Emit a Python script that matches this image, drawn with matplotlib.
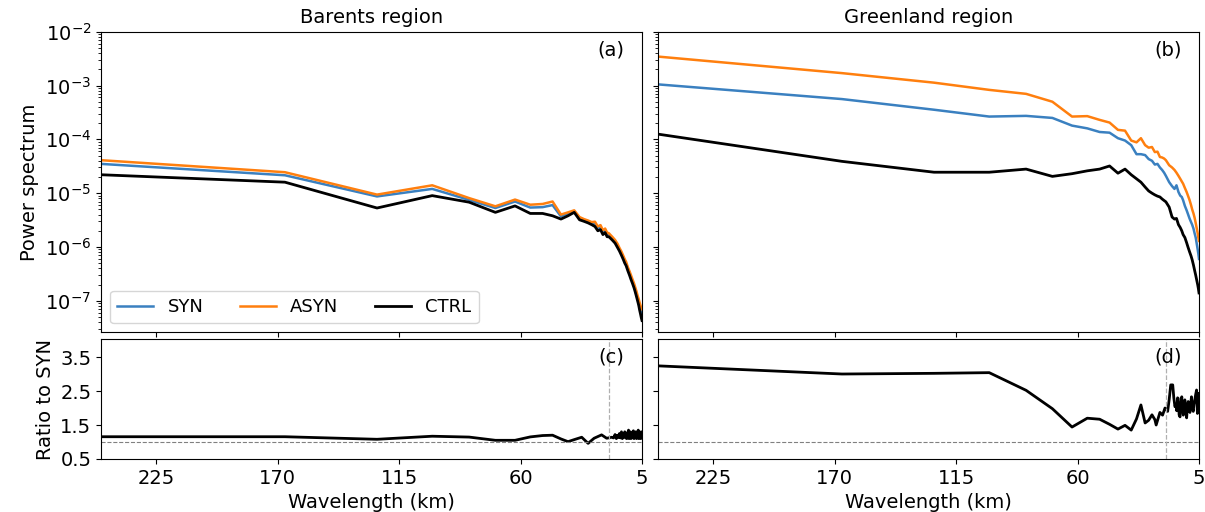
import matplotlib
matplotlib.use("Agg")
import matplotlib.pyplot as plt

# ---------------- data ----------------
wavelength = [250, 166.7, 125, 100, 83.3, 71.4, 62.5, 55.6, 50, 45.5, 41.7, 38.5,
              35.7, 33.3, 31.3, 29.4, 27.8, 26.3, 25, 23.8, 22.7, 21.7, 20.8, 20,
              18.5, 17.2, 16.1, 15.2, 14.3, 13.5, 12.8, 12.2, 11.4, 10.6, 10, 9.3,
              8.6, 8.1, 7.5, 7, 6.5, 6.1, 5.6, 5.3, 5]

barents_syn = [3.5e-5, 2.15e-5, 8.7e-6, 1.2e-5, 7.5e-6, 5.3e-6, 7.0e-6, 5.4e-6, 5.5e-6,
               6.0e-6, 3.7e-6, 4.2e-6, 4.6e-6, 3.4e-6, 3.2e-6, 3.0e-6, 2.8e-6, 2.6e-6,
               2.3e-6, 2.25e-6, 1.95e-6, 2.0e-6, 1.75e-6, 1.7e-6, 1.45e-6, 1.28e-6,
               1.06e-6, 9.0e-7, 7.6e-7, 6.4e-7, 5.5e-7, 4.9e-7, 3.9e-7, 3.2e-7, 2.7e-7,
               2.25e-7, 1.9e-7, 1.6e-7, 1.3e-7, 1.08e-7, 9.0e-8, 7.6e-8, 6.4e-8, 5.9e-8,
               5.5e-8]
barents_asyn = [4.1e-5, 2.45e-5, 9.4e-6, 1.4e-5, 8.1e-6, 5.7e-6, 7.6e-6, 6.1e-6, 6.3e-6,
                7.0e-6, 4.0e-6, 4.4e-6, 4.8e-6, 3.6e-6, 3.3e-6, 3.1e-6, 2.9e-6, 2.95e-6,
                2.4e-6, 2.55e-6, 2.05e-6, 2.2e-6, 1.85e-6, 1.8e-6, 1.55e-6, 1.35e-6,
                1.15e-6, 9.6e-7, 8.2e-7, 6.9e-7, 5.9e-7, 5.3e-7, 4.2e-7, 3.5e-7, 3.0e-7,
                2.5e-7, 2.1e-7, 1.8e-7, 1.5e-7, 1.25e-7, 1.08e-7, 9.3e-8, 8.0e-8, 7.4e-8,
                7.0e-8]
barents_ctrl = [2.2e-5, 1.6e-5, 5.3e-6, 9.0e-6, 6.8e-6, 4.4e-6, 5.8e-6, 4.2e-6, 4.2e-6,
                3.8e-6, 3.3e-6, 3.8e-6, 4.4e-6, 3.2e-6, 3.0e-6, 2.8e-6, 2.6e-6, 2.4e-6,
                2.0e-6, 2.1e-6, 1.7e-6, 1.85e-6, 1.55e-6, 1.55e-6, 1.35e-6, 1.18e-6,
                9.8e-7, 8.4e-7, 7.0e-7, 5.9e-7, 5.0e-7, 4.5e-7, 3.6e-7, 2.95e-7, 2.5e-7,
                2.1e-7, 1.74e-7, 1.48e-7, 1.2e-7, 1.0e-7, 8.3e-8, 6.8e-8, 5.5e-8, 4.8e-8,
                4.3e-8]

green_syn = [1.05e-3, 5.6e-4, 3.55e-4, 2.65e-4, 2.73e-4, 2.5e-4, 1.8e-4, 1.6e-4, 1.37e-4,
             1.33e-4, 1.05e-4, 9.5e-5, 7.8e-5, 5.3e-5, 5.3e-5, 5.1e-5, 4.3e-5, 4.0e-5,
             3.4e-5, 3.5e-5, 3.0e-5, 2.7e-5, 2.4e-5, 2.1e-5, 1.6e-5, 1.35e-5, 1.2e-5,
             1.4e-5, 1.05e-5, 9.0e-6, 8.5e-6, 7.4e-6, 5.8e-6, 4.8e-6, 4.1e-6, 3.4e-6,
             2.9e-6, 2.6e-6, 2.2e-6, 1.8e-6, 1.5e-6, 1.2e-6, 9.0e-7, 7.5e-7, 6.0e-7]
green_asyn = [3.45e-3, 1.7e-3, 1.13e-3, 8.3e-4, 7.0e-4, 5.0e-4, 2.65e-4, 2.7e-4, 2.3e-4,
              2.05e-4, 1.5e-4, 1.45e-4, 9.5e-5, 8.8e-5, 1.05e-4, 7.8e-5, 7.0e-5, 7.2e-5,
              5.8e-5, 5.9e-5, 4.7e-5, 4.6e-5, 4.4e-5, 4.1e-5, 3.3e-5, 3.0e-5, 2.7e-5,
              2.4e-5, 2.1e-5, 1.85e-5, 1.65e-5, 1.5e-5, 1.25e-5, 1.05e-5, 9.0e-6, 7.5e-6,
              6.0e-6, 5.0e-6, 4.2e-6, 3.5e-6, 2.8e-6, 2.3e-6, 1.8e-6, 1.5e-6, 1.3e-6]
green_ctrl = [1.25e-4, 3.9e-5, 2.45e-5, 2.45e-5, 2.8e-5, 2.05e-5, 2.3e-5, 2.6e-5, 2.8e-5,
              3.2e-5, 2.35e-5, 2.8e-5, 2.2e-5, 1.85e-5, 1.6e-5, 1.3e-5, 1.1e-5, 1.0e-5,
              9.3e-6, 8.8e-6, 8.5e-6, 7.8e-6, 7.3e-6, 6.9e-6, 5.5e-6, 3.6e-6, 3.3e-6,
              3.4e-6, 2.6e-6, 2.3e-6, 2.0e-6, 1.7e-6, 1.5e-6, 1.2e-6, 1.0e-6, 8.2e-7,
              6.8e-7, 5.8e-7, 4.6e-7, 3.7e-7, 3.0e-7, 2.5e-7, 2.0e-7, 1.7e-7, 1.4e-7]

ratio_barents_wl = [250, 166.7, 125, 100, 83.3, 71.4, 62.5, 55.6, 50, 45.5, 41.7, 38.5,
                    35.7, 32.3, 29.4, 26.7, 23.3, 21, 18.7, 17.9, 17.2, 16.6, 16.1, 15.6,
                    15.2, 14.7, 14.3, 13.9, 13.5, 13.2, 12.8, 12.5, 12.2, 11.9, 11.6, 11.4,
                    11.1, 10.9, 10.6, 10.4, 10.2, 10, 9.6, 9.3, 8.9, 8.6, 8.3, 8.1, 7.8,
                    7.5, 7.2, 7.0, 6.7, 6.5, 6.2, 6.0, 5.7, 5.5, 5.3, 5.1, 5.0]
ratio_barents = [1.155, 1.155, 1.08, 1.17, 1.145, 1.05, 1.05, 1.15, 1.19, 1.20, 1.09, 1.01,
                 1.07, 1.14, 0.96, 1.11, 1.21, 1.11, 1.14, 1.12, 1.22, 1.10, 1.20, 1.13,
                 1.25, 1.12, 1.30, 1.10, 1.22, 1.15, 1.30, 1.12, 1.20, 1.10, 1.28, 1.15,
                 1.35, 1.10, 1.25, 1.13, 1.30, 1.10, 1.22, 1.12, 1.33, 1.10, 1.25, 1.15,
                 1.30, 1.10, 1.28, 1.15, 1.35, 1.10, 1.30, 1.12, 1.25, 1.10, 1.30, 1.15,
                 1.22]

ratio_green_wl = [250, 166.7, 125, 100, 83.3, 71.4, 62.5, 55.6, 50, 45.5, 41.7, 38.5,
                  35.7, 33.3, 31.3, 29.4, 27.8, 26.3, 25, 24.4, 22.7, 21.5, 20.4, 19.2,
                  18.5, 17.8, 16.9, 16.4, 15.9, 15.4, 15.1, 14.7, 14.4, 14.0, 13.6, 13.2,
                  12.8, 12.5, 12.1, 11.8, 11.4, 11.0, 10.6, 10.3, 9.9, 9.5, 9.1, 8.8,
                  8.4, 8.0, 7.6, 7.3, 6.9, 6.5, 6.1, 5.9, 5.7, 5.3, 5.0]
ratio_green = [3.24, 3.00, 3.02, 3.04, 2.52, 1.98, 1.44, 1.70, 1.67, 1.52, 1.38, 1.49,
               1.35, 1.68, 2.09, 1.56, 1.64, 1.80, 1.66, 1.50, 1.87, 1.79, 2.00, 1.90,
               2.25, 2.68, 2.68, 2.30, 2.04, 2.10, 1.92, 2.30, 2.28, 1.80, 1.74, 2.10,
               2.33, 2.00, 1.79, 2.10, 2.24, 1.90, 1.71, 2.00, 2.19, 1.95, 1.87, 2.10,
               2.33, 2.00, 1.90, 2.10, 2.24, 2.40, 2.53, 2.10, 1.84, 2.10, 2.43]

series_labels = ["SYN", "ASYN", "CTRL"]
series_colors = ["#3a80c0", "#ff7f0e", "black"]
xticks = [225, 170, 115, 60, 5]
ratio_yticks = [0.5, 1.5, 2.5, 3.5]
titles = ["Barents region", "Greenland region"]
panel_tags = ["(a)", "(b)", "(c)", "(d)"]

# ---------------- figure ----------------
plt.rcParams["font.family"] = "DejaVu Sans"
FS = 14
W, H = 1205, 512
fig = plt.figure(figsize=(W / 100, H / 100), dpi=100)


def rect(x0, x1, y0, y1):
    return [x0 / W, 1 - y1 / H, (x1 - x0) / W, (y1 - y0) / H]


ax_a = fig.add_axes(rect(101, 642, 31.7, 332.3))
ax_b = fig.add_axes(rect(658, 1199, 31.7, 332.3), sharey=ax_a)
ax_c = fig.add_axes(rect(101, 642, 339, 459))
ax_d = fig.add_axes(rect(658, 1199, 339, 459), sharey=ax_c)

spectra = [(ax_a, [barents_syn, barents_asyn, barents_ctrl]),
           (ax_b, [green_syn, green_asyn, green_ctrl])]
for ax, ys in spectra:
    for y, lab, col in zip(ys, series_labels, series_colors):
        lw = 2.0 if col == "black" else 1.8
        ax.plot(wavelength, y, color=col, lw=lw, label=lab)
    ax.set_yscale("log")

ax_a.set_ylim(2.6e-8, 1e-2)

ratios = [(ax_c, ratio_barents_wl, ratio_barents), (ax_d, ratio_green_wl, ratio_green)]
for ax, xw, r in ratios:
    ax.plot(xw, r, color="black", lw=2.0)
    ax.axhline(1.0, color="gray", lw=0.8, ls="--")
    ax.axvline(20, color="#b0b0b0", lw=0.9, ls="--")
    ax.set_yticks(ratio_yticks)
ax_c.set_ylim(0.5, 4.03)

for ax in (ax_a, ax_b, ax_c, ax_d):
    ax.set_xlim(250, 5)
    ax.set_xticks(xticks)
    ax.tick_params(labelsize=FS)

for ax in (ax_a, ax_b):
    ax.tick_params(labelbottom=False)
for ax in (ax_b, ax_d):
    ax.tick_params(labelleft=False)

ax_a.set_title(titles[0], fontsize=FS)
ax_b.set_title(titles[1], fontsize=FS)
ax_a.set_ylabel("Power spectrum", fontsize=FS)
ax_c.set_ylabel("Ratio to SYN", fontsize=FS)
ax_c.set_xlabel("Wavelength (km)", fontsize=FS)
ax_d.set_xlabel("Wavelength (km)", fontsize=FS)

for ax, tag in zip((ax_a, ax_b), panel_tags[:2]):
    ax.text(0.968, 0.972, tag, transform=ax.transAxes, ha="right", va="top", fontsize=FS)
for ax, tag in zip((ax_c, ax_d), panel_tags[2:]):
    ax.text(0.968, 0.93, tag, transform=ax.transAxes, ha="right", va="top", fontsize=FS)

ax_a.legend(loc="lower left", ncol=3, fontsize=13)

fig.savefig("out.png", dpi=100)
